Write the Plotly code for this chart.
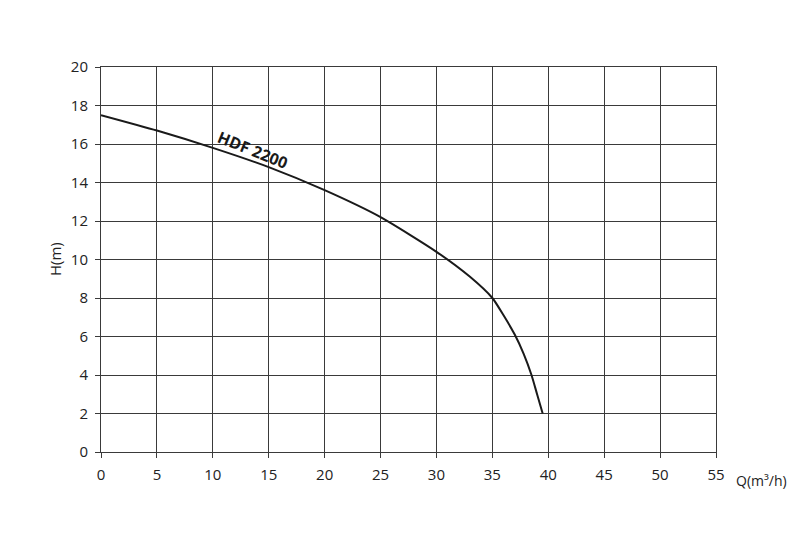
import plotly.graph_objects as go

# 揚程曲線 HDF 2200
flow_q = [0, 5, 10, 15, 20, 25, 30, 33, 35, 36, 37, 37.8, 38.5, 39.0, 39.5]
head_h = [17.5, 16.7, 15.8, 14.8, 13.6, 12.2, 10.4, 9.1, 8.0, 7.1, 6.1, 5.1, 4.0, 3.0, 2.0]
x_ticks = list(range(0, 56, 5))
y_ticks = list(range(0, 21, 2))

FONT = "Open Sans, DejaVu Sans, sans-serif"
GRID = "#3a3a3a"

fig = go.Figure()
fig.add_trace(
    go.Scatter(
        x=flow_q,
        y=head_h,
        mode="lines",
        line=dict(color="#1a1a1a", width=2, shape="spline", smoothing=0.6),
        showlegend=False,
        hoverinfo="skip",
    )
)

fig.add_annotation(
    x=13.6, y=15.7, text="<b>HDF 2200</b>", showarrow=False,
    textangle=22, font=dict(family=FONT, size=16, color="#1a1a1a"),
)
fig.add_annotation(
    x=1.0, y=-0.075, xref="paper", yref="paper", xanchor="left", yanchor="middle",
    xshift=18, text="Q(m³/h)", showarrow=False,
    font=dict(family=FONT, size=14, color="#222"),
)
fig.add_annotation(
    x=-0.095, y=0.5, xref="paper", yref="paper",
    text="H(m)", textangle=-90, showarrow=False,
    font=dict(family=FONT, size=15, color="#222"),
)

axis_common = dict(
    showgrid=True, gridcolor=GRID, gridwidth=1,
    showline=True, linecolor=GRID, linewidth=1, mirror=True,
    ticks="outside", ticklen=5, tickcolor=GRID, ticklabelstandoff=4,
    tickfont=dict(family=FONT, size=15, color="#222"),
    zeroline=False,
)
fig.update_xaxes(range=[0, 55], tickvals=x_ticks, **axis_common)
fig.update_yaxes(range=[0, 20], tickvals=y_ticks, **axis_common)

# ページ本文の余白 (8px) 分を差し引いた余白
fig.update_layout(
    width=802, height=552,
    margin=dict(l=93, r=94, t=59, b=108),
    plot_bgcolor="white", paper_bgcolor="white",
    font=dict(family=FONT),
)

fig.write_html("out.html")
